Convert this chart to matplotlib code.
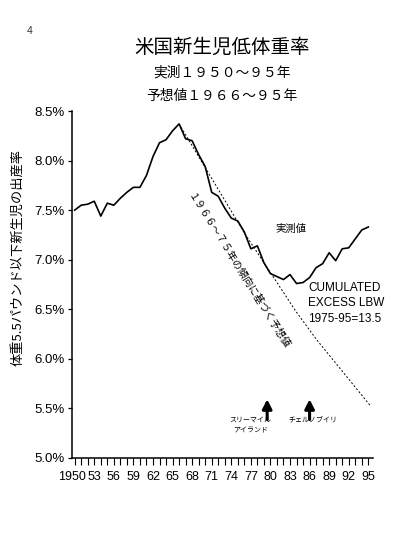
import matplotlib
matplotlib.use("Agg")
import matplotlib.pyplot as plt
from matplotlib.transforms import offset_copy

# polices : chiffres façon Arial, japonais en Noto CJK
plt.rcParams['font.family'] = ['Liberation Sans', 'Noto Sans CJK JP', 'DejaVu Sans']
JP = ['Noto Sans CJK JP', 'DejaVu Sans']

# Données
years = list(range(1950, 1996))
lbw = [7.50, 7.55, 7.56, 7.59, 7.44, 7.57, 7.55, 7.62, 7.68, 7.73,
       7.73, 7.85, 8.04, 8.18, 8.21, 8.30, 8.37, 8.22, 8.20, 8.06,
       7.94, 7.68, 7.64, 7.52, 7.42, 7.39, 7.28, 7.11, 7.14, 6.97,
       6.86, 6.83, 6.80, 6.85, 6.76, 6.77, 6.82, 6.92, 6.96, 7.07,
       6.99, 7.11, 7.12, 7.21, 7.30, 7.33]

# projection (1966-75), légèrement courbe sur le dessin
proj_years = [1966, 1976, 1984, 1987, 1995.4]
proj_lbw = [8.37, 7.27, 6.47, 6.20, 5.52]

event_years = [1979.5, 1986.0]
event_labels = ["スリーマイル\nアイランド", "チェルノブイリ"]

ytick_vals = [5.0, 5.5, 6.0, 6.5, 7.0, 7.5, 8.0, 8.5]
ytick_labels = ["5.0%", "5.5%", "6.0%", "6.5%", "7.0%", "7.5%", "8.0%", "8.5%"]
xtick_years = list(range(1950, 1996, 3))
xtick_labels = ["1950", "53", "56", "59", "62", "65", "68", "71",
                "74", "77", "80", "83", "86", "89", "92", "95"]

W, H = 393, 545
fig = plt.figure(figsize=(W / 100, H / 100), dpi=100)
ax = fig.add_axes([72 / W, (H - 458) / H, 301 / W, 347 / H])

ax.plot(years, lbw, color="black", lw=1.2)
ax.plot(proj_years, proj_lbw, color="black", lw=0.7, ls=(0, (2, 2)))

ax.set_xlim(1949.59, 1995.72)
ax.set_ylim(5.0, 8.5)
ax.spines['top'].set_visible(False)
ax.spines['right'].set_visible(False)
ax.spines['left'].set_linewidth(1.1)
ax.spines['bottom'].set_linewidth(1.1)

ax.set_yticks(ytick_vals)
ax.set_yticklabels(ytick_labels, fontsize=9.5)
ax.set_xticks(years, minor=True)
ax.set_xticks(xtick_years)
ax.set_xticklabels(xtick_labels, fontsize=9)
ax.tick_params(axis='y', length=3, width=0.9, pad=2)
ax.tick_params(axis='x', which='both', length=5, width=0.8, pad=4)

# décaler "1950" un peu à gauche pour ne pas toucher "53"
lab0 = ax.get_xticklabels()[0]
lab0.set_transform(offset_copy(lab0.get_transform(), fig=fig, x=-3, units='dots'))

ax.set_ylabel("体重5.5パウンド以下新生児の出産率", fontsize=9.5, family=JP)
ax.yaxis.set_label_coords(-0.16, 0.578)

# annotations
ax.text(1983.2, 7.31, "実測値", family=JP, fontsize=7.5, ha='center', va='center')
ax.text(1985.8, 6.78, "CUMULATED\nEXCESS LBW\n1975-95=13.5", fontsize=8.5,
        ha='left', va='top', linespacing=1.4)
ax.text(1975.0, 6.88, "１９６６～７５年の傾向に基づく予想値", family=JP, fontsize=7.3,
        rotation=-58, rotation_mode='anchor', ha='center', va='center')

for x in event_years:
    ax.annotate("", xy=(x, 5.62), xytext=(x, 5.36),
                arrowprops=dict(arrowstyle="-|>,head_width=0.28,head_length=0.55",
                                color="black", lw=2.2))
ax.text(1976.9, 5.43, event_labels[0], family=JP, fontsize=5, ha='center', va='top',
        linespacing=1.5)
ax.text(1986.5, 5.43, event_labels[1], family=JP, fontsize=5, ha='center', va='top')

# titres
fig.text(222 / W, 1 - 47 / H, "米国新生児低体重率", family=JP, fontsize=14,
         ha='center', va='center')
fig.text(222 / W, 1 - 72 / H, "実測１９５０～９５年", family=JP, fontsize=9.9,
         ha='center', va='center')
fig.text(222 / W, 1 - 96 / H, "予想値１９６６～９５年", family=JP, fontsize=9.9,
         ha='center', va='center')
fig.text(30 / W, 1 - 31 / H, "4", fontsize=7.5, ha='center', va='center', color="#333333")

fig.savefig("out.png", dpi=100)
